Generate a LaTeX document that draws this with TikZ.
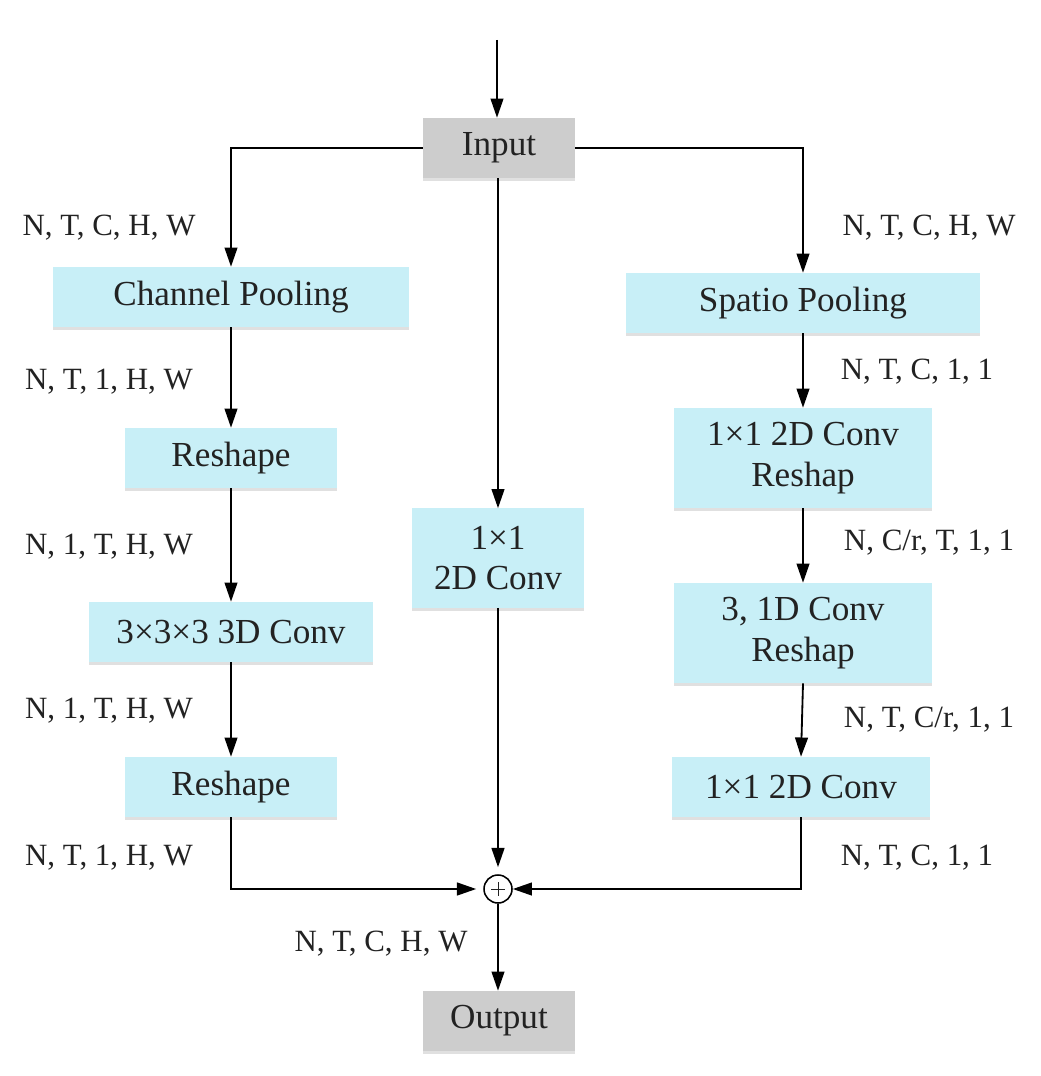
\documentclass[tikz,border=0pt]{standalone}
\usepackage{fontspec}
\setmainfont{Liberation Serif}
\usetikzlibrary{arrows.meta, shadows}
\definecolor{boxcyan}{HTML}{C8EFF7}
\definecolor{boxgrey}{HTML}{CDCDCD}
\definecolor{txt}{HTML}{222222}

\begin{document}
\begin{tikzpicture}[
  x=0.025cm, y=-0.025cm,
  op/.style={fill=boxcyan, text=txt, font=\fontsize{25}{29}\selectfont,
    align=center, inner sep=0pt, minimum height=1.5cm,
    drop shadow={shadow xshift=0cm, shadow yshift=-0.08cm, fill=black!12, opacity=1}},
  io/.style={op, fill=boxgrey, minimum width=3.8cm},
  dim/.style={text=txt, font=\fontsize{22}{26}\selectfont, inner sep=0pt},
  sumnode/.style={circle, draw, line width=1.1pt, minimum size=0.7cm,
    inner sep=0pt, fill=white},
  flow/.style={-{Triangle[length=0.48cm, width=0.32cm]}, line width=1.3pt},
  >=Stealth
]
  \useasboundingbox (0,0) rectangle (1040,1076);

  %% INPUT / OUTPUT
  \coordinate (top) at (497,40);
  \node[io] (input) at (499,148) {Input};
  \node[io] (output) at (499,1021) {Output};

  %% LEFT BRANCH
  \node[op, minimum width=8.9cm] (cpool) at (231,297) {Channel Pooling};
  \node[op, minimum width=5.3cm] (reshA) at (231,458) {Reshape};
  \node[op, minimum width=7.1cm] (conv3d) at (231,632) {3×3×3 3D Conv};
  \node[op, minimum width=5.3cm] (reshB) at (231,787) {Reshape};

  %% MIDDLE BRANCH
  \node[op, minimum width=4.275cm, minimum height=2.475cm] (conv2d) at (498,558)
    {1×1\\2D Conv};

  %% RIGHT BRANCH
  \node[op, minimum width=8.85cm] (spool) at (803,303) {Spatio Pooling};
  \node[op, minimum width=6.45cm, minimum height=2.5cm] (convA) at (803,458)
    {1×1 2D Conv\\Reshap};
  \node[op, minimum width=6.45cm, minimum height=2.5cm] (convB) at (803,633)
    {3, 1D Conv\\Reshap};
  \node[op, minimum width=6.45cm] (convC) at (801,787) {1×1 2D Conv};

  %% SUM
  \node[sumnode] (sum) at (498,889) {};
  \draw[line width=0.6pt, txt] (sum.center) ++(-7,0) -- ++(14,0)
    (sum.center) ++(0,-7) -- ++(0,14);

  %% SHAPE LABELS
  \node[dim] (dA) at (109,228) {N, T, C, H, W};
  \node[dim] (dB) at (109,382) {N, T, 1, H, W};
  \node[dim] (dC) at (109,547) {N, 1, T, H, W};
  \node[dim] (dD) at (109,711) {N, 1, T, H, W};
  \node[dim] (dE) at (109,858) {N, T, 1, H, W};
  \node[dim] (dF) at (381,944) {N, T, C, H, W};
  \node[dim] (dG) at (929,228) {N, T, C, H, W};
  \node[dim] (dH) at (917,372) {N, T, C, 1, 1};
  \node[dim] (dI) at (929,543) {N, C/r, T, 1, 1};
  \node[dim] (dJ) at (929,720) {N, T, C/r, 1, 1};
  \node[dim] (dK) at (917,858) {N, T, C, 1, 1};

  %%======== ARROWS ========
  \draw[flow] (top) -- (top |- input.north);
  \draw[flow] (input.west) -| (cpool.north);
  \draw[flow] (input.east) -| (spool.north);
  \draw[flow] (conv2d.north |- input.south) -- (conv2d.north);
  %% left column
  \draw[flow] (cpool.south) -- (reshA.north);
  \draw[flow] (reshA.south) -- (conv3d.north);
  \draw[flow] (conv3d.south) -- (reshB.north);
  \draw[flow, shorten >=5pt] (reshB.south) |- (sum.west);
  %% middle
  \draw[flow, shorten >=5pt] (conv2d.south) -- (sum.north);
  %% right column
  \draw[flow] (spool.south) -- (convA.north);
  \draw[flow] (convA.south) -- (convB.north);
  \draw[flow] (convB.south) -- (convC.north);
  \draw[flow] (convC.south) |- (sum.east);
  %% out
  \draw[flow] (sum.south) -- (sum.south |- output.north);

\end{tikzpicture}
\end{document}
